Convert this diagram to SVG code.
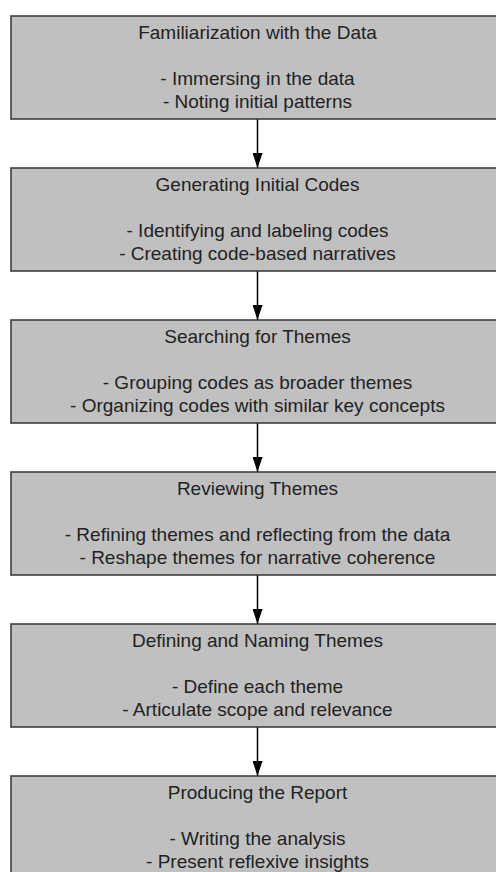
<svg xmlns="http://www.w3.org/2000/svg" width="496" height="872" viewBox="0 0 496 872">
<defs>
<style>
.box{fill:#c0c0c0;stroke:#333;stroke-width:1.5}
.t{font-family:"Liberation Sans",Arial,sans-serif;font-size:19px;fill:#222;text-anchor:middle}
.c{stroke:#000;stroke-width:1.5;fill:none}
</style>
<marker id="ah" markerWidth="15" markerHeight="10" refX="15" refY="5" orient="auto" markerUnits="userSpaceOnUse" viewBox="0 0 15 10">
<path d="M0,0 L15,5 L0,10 Z" fill="#000"/>
</marker>
</defs>
<rect width="496" height="872" fill="#fff"/>
<g id="connectors">
<line class="c" x1="257.5" y1="119" x2="257.5" y2="168" marker-end="url(#ah)"/>
<line class="c" x1="257.5" y1="271" x2="257.5" y2="320" marker-end="url(#ah)"/>
<line class="c" x1="257.5" y1="423" x2="257.5" y2="472" marker-end="url(#ah)"/>
<line class="c" x1="257.5" y1="575" x2="257.5" y2="624" marker-end="url(#ah)"/>
<line class="c" x1="257.5" y1="727" x2="257.5" y2="776" marker-end="url(#ah)"/>
</g>
<g id="n1">
<rect class="box" x="11" y="16" width="493" height="103"/>
<text class="t" x="257.5" y="39">Familiarization with the Data</text>
<text class="t" x="257.5" y="85">- Immersing in the data</text>
<text class="t" x="257.5" y="108">- Noting initial patterns</text>
</g>
<g id="n2">
<rect class="box" x="11" y="168" width="493" height="103"/>
<text class="t" x="257.5" y="191">Generating Initial Codes</text>
<text class="t" x="257.5" y="237">- Identifying and labeling codes</text>
<text class="t" x="257.5" y="260">- Creating code-based narratives</text>
</g>
<g id="n3">
<rect class="box" x="11" y="320" width="493" height="103"/>
<text class="t" x="257.5" y="343">Searching for Themes</text>
<text class="t" x="257.5" y="389">- Grouping codes as broader themes</text>
<text class="t" x="257.5" y="412">- Organizing codes with similar key concepts</text>
</g>
<g id="n4">
<rect class="box" x="11" y="472" width="493" height="103"/>
<text class="t" x="257.5" y="495">Reviewing Themes</text>
<text class="t" x="257.5" y="541">- Refining themes and reflecting from the data</text>
<text class="t" x="257.5" y="564">- Reshape themes for narrative coherence</text>
</g>
<g id="n5">
<rect class="box" x="11" y="624" width="493" height="103"/>
<text class="t" x="257.5" y="647">Defining and Naming Themes</text>
<text class="t" x="257.5" y="693">- Define each theme</text>
<text class="t" x="257.5" y="716">- Articulate scope and relevance</text>
</g>
<g id="n6">
<rect class="box" x="11" y="776" width="493" height="103"/>
<text class="t" x="257.5" y="799">Producing the Report</text>
<text class="t" x="257.5" y="845">- Writing the analysis</text>
<text class="t" x="257.5" y="868">- Present reflexive insights</text>
</g>
</svg>
